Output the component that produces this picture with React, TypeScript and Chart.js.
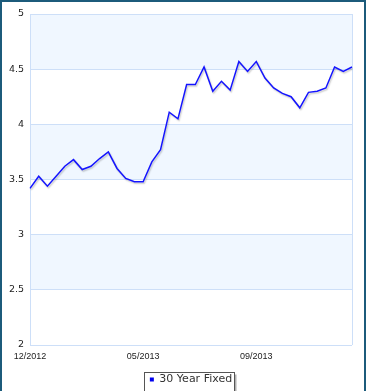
import React, { useEffect, useRef } from 'react';
import { Chart, registerables } from 'chart.js';

Chart.register(...registerables);

const categories = [
  '12/2012', '12/2012', '12/2012',
  '01/2013', '01/2013', '01/2013',
  '02/2013', '02/2013', '02/2013',
  '03/2013', '03/2013',
  '04/2013', '04/2013',
  '05/2013', '05/2013', '05/2013',
  '06/2013', '06/2013', '06/2013',
  '07/2013', '07/2013', '07/2013', '07/2013',
  '08/2013', '08/2013', '08/2013',
  '09/2013', '09/2013', '09/2013',
  '10/2013', '10/2013', '10/2013',
  '11/2013', '11/2013', '11/2013',
  '12/2013', '12/2013', '12/2013',
];

const rate30Year = [
  3.42, 3.53, 3.44, 3.53, 3.62, 3.68, 3.59, 3.62, 3.69, 3.75,
  3.60, 3.51, 3.48, 3.48, 3.66, 3.77, 4.11, 4.05, 4.36, 4.36,
  4.52, 4.30, 4.39, 4.31, 4.57, 4.48, 4.57, 4.42, 4.33, 4.28,
  4.25, 4.15, 4.29, 4.30, 4.33, 4.52, 4.48, 4.52,
];

const xTickLabels = ['12/2012', '05/2013', '09/2013'];
const seriesName = '30 Year Fixed';
const yMin = 2;
const yMax = 5;
const yStep = 0.5;

const GRID = '#cddff8';
const BAND = '#f0f7ff';
const LINE = '#1414ff';

const bandsPlugin = {
  id: 'bands',
  beforeDraw(chart: any) {
    const { ctx, chartArea, scales } = chart;
    const y = scales.y;
    const vals = y.ticks.map((t: any) => t.value).sort((a: number, b: number) => b - a);
    ctx.save();
    ctx.fillStyle = BAND;
    for (let i = 0; i + 1 < vals.length; i += 2) {
      const t = y.getPixelForValue(vals[i]);
      const b = y.getPixelForValue(vals[i + 1]);
      ctx.fillRect(chartArea.left, t, chartArea.right - chartArea.left, b - t);
    }
    // legend frame
    const lg = chart.legend;
    if (lg && lg.legendHitBoxes && lg.legendHitBoxes.length) {
      const hb = lg.legendHitBoxes[0];
      const l = Math.round(hb.left) - 5.5;
      const tp = Math.round(hb.top) - 1.5;
      const w = Math.round(hb.width) + 8;
      const h = hb.height + 12;
      ctx.fillStyle = '#b0b0b0';
      ctx.fillRect(l + 2, tp + 2, w, h);
      ctx.fillStyle = '#ffffff';
      ctx.fillRect(l, tp, w, h);
      ctx.strokeStyle = '#555555';
      ctx.lineWidth = 1;
      ctx.strokeRect(l, tp, w, h);
    }
    ctx.restore();
  },
};

const shadowPlugin = {
  id: 'lineShadow',
  beforeDatasetDraw(chart: any) {
    const ctx = chart.ctx;
    ctx.save();
    ctx.shadowColor = 'rgba(0,0,0,0.22)';
    ctx.shadowOffsetX = 1;
    ctx.shadowOffsetY = 1.5;
    ctx.shadowBlur = 1.5;
  },
  afterDatasetDraw(chart: any) {
    chart.ctx.restore();
  },
};

export default function App() {
  const ref = useRef<HTMLCanvasElement | null>(null);

  useEffect(() => {
    if (!ref.current) return;
    const last = categories.length - 1;
    const chart = new Chart(ref.current, {
      type: 'line',
      data: {
        labels: categories,
        datasets: [
          {
            label: seriesName,
            data: rate30Year,
            borderColor: LINE,
            backgroundColor: LINE,
            borderWidth: 1.5,
            pointRadius: 0,
            pointHoverRadius: 0,
            tension: 0,
            fill: false,
          },
        ],
      },
      options: {
        animation: false,
        responsive: false,
        devicePixelRatio: 1,
        layout: { padding: { top: 14, right: 20, left: 0, bottom: 5 } },
        plugins: {
          tooltip: { enabled: false },
          legend: {
            display: true,
            position: 'bottom',
            fullSize: false,
            labels: {
              boxWidth: 4,
              boxHeight: 4,
              padding: 9,
              color: '#333333',
              font: { family: 'DejaVu Sans', size: 11 },
              generateLabels: (c: any) =>
                (Chart.defaults.plugins.legend.labels as any).generateLabels(c).map((it: any) => ({
                  ...it,
                  fillStyle: '#0000ee',
                  strokeStyle: '#0000ee',
                  lineWidth: 0,
                })),
            },
          },
        },
        scales: {
          x: {
            type: 'category',
            offset: false,
            afterFit: (s: any) => {
              s.height = 20;
            },
            grid: {
              drawTicks: false,
              color: (c: any) => (c.index === 0 || c.index === last ? GRID : 'rgba(0,0,0,0)'),
            },
            border: { display: false },
            ticks: {
              autoSkip: false,
              maxRotation: 0,
              padding: 6,
              color: '#222222',
              font: { family: 'Liberation Sans', size: 9 },
              callback: (_v: any, i: number) => {
                const lab = categories[i];
                return xTickLabels.includes(lab) && categories.indexOf(lab) === i ? lab : '';
              },
            },
          },
          y: {
            type: 'linear',
            min: yMin,
            max: yMax,
            afterFit: (s: any) => {
              s.width = 30;
            },
            grid: { drawTicks: false, color: GRID },
            border: { display: true, color: GRID },
            ticks: {
              stepSize: yStep,
              padding: 6,
              color: '#222222',
              font: { family: 'DejaVu Sans', size: 9.5 },
              callback: (v: any) => String(v),
            },
          },
        },
      },
      plugins: [bandsPlugin, shadowPlugin],
    });
    return () => chart.destroy();
  }, []);

  return (
    <div style={{ position: 'fixed', left: 0, top: 0, width: 372, height: 400 }}>
      <canvas ref={ref} width={372} height={400} style={{ width: 372, height: 400, display: 'block' }} />
      <div
        style={{
          position: 'absolute',
          left: 0,
          top: 0,
          width: 366,
          height: 420,
          border: '2px solid #1c5b7b',
          boxSizing: 'border-box',
          pointerEvents: 'none',
        }}
      />
    </div>
  );
}
